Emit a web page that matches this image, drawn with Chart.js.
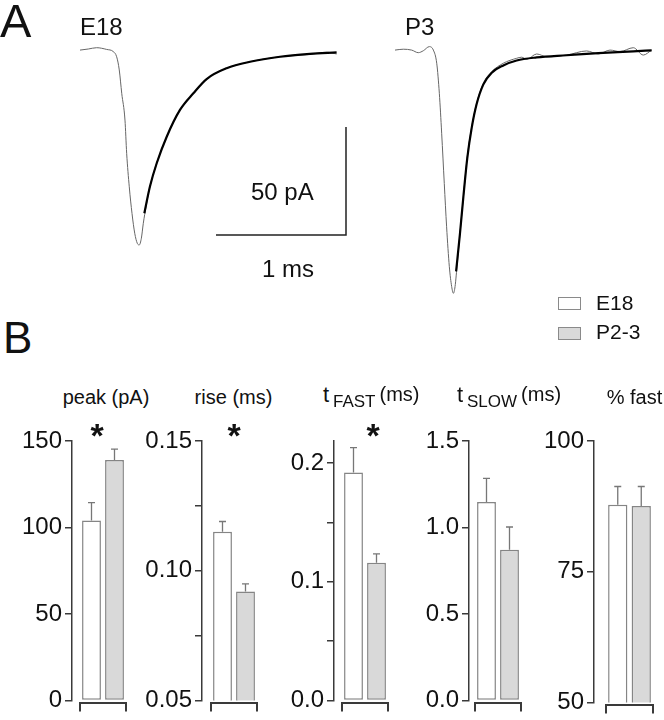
<!DOCTYPE html>
<html>
<head>
<meta charset="utf-8">
<script src="https://cdn.jsdelivr.net/npm/chart.js@4/dist/chart.umd.min.js"></script>
<style>
  body { margin: 0; background: #fff; }
  #fig { position: relative; width: 664px; height: 720px; overflow: hidden;
         font-family: "Liberation Sans", Arial, sans-serif; color: #111; }
  #fig canvas { position: absolute; }
  .t { position: absolute; line-height: 1; white-space: nowrap; }
  .box { position: absolute; box-sizing: border-box; width: 23px; height: 13px; border: 1px solid #8a8a8a; }
</style>
</head>
<body>
<div id="fig"></div>
<script>
// ---- panel A: averaged currents (time in ms from trace start, current in pA) ----
const e18Time    = [0, .064, .128, .205, .256, .282, .302, .321, .346, .359, .379, .4, .421, .441, .456, .472, .487, .508, .538, .59, .667, .769, .872, .974, 1.128, 1.308, 1.538, 1.769, 1.897, 1.974];
const e18Current = [-0.5, 0, 0.6, -0.2, -1.2, -3.6, -9.7, -20.5, -32.9, -48.3, -63.8, -76.1, -85.3, -90, -90.7, -87.6, -80.7, -73, -63.7, -52.9, -40.6, -28.2, -20.5, -13.9, -8.9, -5.9, -3.6, -2.5, -1.5, -2.3];
const e18FitTime    = [.495, .538, .59, .667, .769, .872, .974, 1.128, 1.308, 1.538, 1.769, 1.974];
const e18FitCurrent = [-76, -63.7, -52.9, -40.6, -28.2, -20.5, -13.9, -8.9, -5.9, -3.6, -2.3, -1.6];

const p3Time    = [0, .064, .128, .179, .218, .264, .295, .321, .341, .359, .379, .397, .418, .436, .449, .462, .479, .5, .526, .556, .59, .628, .679, .744, .833, .936, .974, 1.013, 1.09, 1.167, 1.321, 1.474, 1.564, 1.654, 1.731, 1.833, 1.91, 1.974];
const p3Current = [-0.5, -0.1, -0.5, -1.7, -0.8, 1.1, -0.5, -6.6, -20.5, -39, -62.2, -82.3, -100.8, -110, -113.1, -110, -99.2, -85.3, -68.4, -49.9, -36, -25.1, -15.9, -10.5, -6.6, -4.3, -3.8, -4.8, -2.3, -3.6, -2.8, -0.9, -2.3, -0.5, -1.2, 0.6, -2.8, -0.5];
const p3FitTime    = [.47, .5, .526, .556, .59, .628, .679, .744, .833, .936, 1.09, 1.321, 1.564, 1.833, 1.974];
const p3FitCurrent = [-103, -85.3, -68.4, -50.5, -36.5, -25.5, -16.5, -11, -7.6, -5.3, -3.9, -2.9, -1.9, -1.1, -0.6];

const scaleBarTime = 1;     // ms
const scaleBarCurrent = 50; // pA

// ---- panel B: kinetics summary ----
const groups   = ['E18', 'P2-3'];
const measures = ['peak (pA)', 'rise (ms)', 't FAST (ms)', 't SLOW (ms)', '% fast'];
const e18Mean  = [104, 0.115, 0.192, 1.147, 87.8];
const e18Sem   = [10.4, 0.004, 0.021, 0.137, 3.5];
const p23Mean  = [139, 0.092, 0.116, 0.872, 87.6];
const p23Sem   = [6.3, 0.003, 0.0075, 0.131, 3.7];
const significant = [true, true, true, false, false];
const yMin  = [0, 0.05, 0, 0, 50];
const yMax  = [150, 0.15, 0.2185, 1.5, 100];
const yStep = [50, 0.025, 0.05, 0.5, 25];
const tickLabels = [
  ['0', '50', '100', '150'],
  ['0.05', '0.10', '0.15'],
  ['0.0', '0.1', '0.2'],
  ['0.0', '0.5', '1.0', '1.5'],
  ['50', '75', '100']
];

// ---- layout ----
const FONT = '"Liberation Sans", Arial, sans-serif';
const AXIS_COLOR = '#3a3a3a';
const E18_FILL = '#ffffff', P23_FILL = '#d9d9d9', BAR_EDGE = '#858585';
const PX_PER_MS = 130, PX_PER_PA = 108 / 50;
const A_W = 664, A_H = 300, A_BASE_Y = 49;
const e18Offset = 80 / PX_PER_MS, p3Offset = 395 / PX_PER_MS;
const barCorner = { t: 346 / PX_PER_MS, i: -(235 - A_BASE_Y) / PX_PER_PA };

const AXIS_X = [72, 202, 334, 469, 594];
const GAP = [8, 9, 8, 6, 12];
const AREA_W = [46, 46, 46, 46, 47];
const AREA_TOP = 441;
const AREA_BOTTOM = [702, 702, 702, 702, 704];
const YAXIS_W = 70, XAXIS_H = 14, XGAP_H = 2, PAD_TOP = 21, PAD_RIGHT = 3;

Chart.defaults.font.family = FONT;
Chart.defaults.color = '#111';

const fig = document.getElementById('fig');

function text(str, left, base, size, opt) {
  opt = opt || {};
  const d = document.createElement('div');
  d.className = 't';
  d.textContent = str;
  d.style.fontSize = size + 'px';
  d.style.top = (base - 0.8465 * size) + 'px';
  d.style.left = left + 'px';
  if (opt.center) d.style.transform = 'translateX(-50%)';
  if (opt.bold) d.style.fontWeight = 'bold';
  fig.appendChild(d);
  return d;
}

function pts(ts, vs, off) {
  return ts.map((t, k) => ({ x: t + off, y: vs[k] }));
}

// ---------- panel A ----------
const canvasA = document.createElement('canvas');
canvasA.width = A_W; canvasA.height = A_H;
canvasA.style.left = '0px'; canvasA.style.top = '0px';
fig.appendChild(canvasA);

new Chart(canvasA, {
  type: 'line',
  data: {
    datasets: [
      { data: pts(e18Time, e18Current, e18Offset), borderColor: '#666', borderWidth: 1, order: 2 },
      { data: pts(e18FitTime, e18FitCurrent, e18Offset), borderColor: '#000', borderWidth: 2.2, order: 1 },
      { data: pts(p3Time, p3Current, p3Offset), borderColor: '#666', borderWidth: 1, order: 2 },
      { data: pts(p3FitTime, p3FitCurrent, p3Offset), borderColor: '#000', borderWidth: 2.2, order: 1 },
      {
        data: [
          { x: barCorner.t - scaleBarTime, y: barCorner.i },
          { x: barCorner.t, y: barCorner.i },
          { x: barCorner.t, y: barCorner.i + scaleBarCurrent }
        ],
        borderColor: '#222', borderWidth: 1.5, tension: 0, cubicInterpolationMode: 'default', order: 0
      }
    ]
  },
  options: {
    responsive: false,
    animation: false,
    devicePixelRatio: 1,
    layout: { padding: 0 },
    elements: { point: { radius: 0 }, line: { cubicInterpolationMode: 'monotone' } },
    plugins: { legend: { display: false }, tooltip: { enabled: false } },
    scales: {
      x: { type: 'linear', display: false, min: 0, max: A_W / PX_PER_MS },
      y: { type: 'linear', display: false, min: -(A_H - A_BASE_Y) / PX_PER_PA, max: A_BASE_Y / PX_PER_PA }
    }
  }
});

text('A', 0, 37, 47);
text('E18', 80, 35, 24);
text('P3', 405, 35, 24);
text('50 pA', 251, 200, 24);
text('1 ms', 262, 277, 24);

// ---------- panel B ----------
text('B', 3, 353, 44);

// legend
[[E18_FILL, 297, groups[0], 310], [P23_FILL, 327, groups[1], 339]].forEach(([fill, top, name, base]) => {
  const b = document.createElement('div');
  b.className = 'box';
  b.style.left = '558px'; b.style.top = top + 'px'; b.style.background = fill;
  fig.appendChild(b);
  text(name, 596, base, 21);
});

const errorBars = {
  id: 'errorBars',
  afterDatasetsDraw(chart) {
    const ds = chart.data.datasets[0];
    const meta = chart.getDatasetMeta(0);
    const ys = chart.scales.y;
    const ctx = chart.ctx;
    ctx.save();
    ctx.strokeStyle = '#777';
    ctx.lineWidth = 1.3;
    meta.data.forEach((bar, j) => {
      const top = ys.getPixelForValue(ds.data[j] + ds.sem[j]);
      ctx.beginPath();
      ctx.moveTo(bar.x, bar.y);
      ctx.lineTo(bar.x, top);
      ctx.moveTo(bar.x - 3.5, top);
      ctx.lineTo(bar.x + 3.5, top);
      ctx.stroke();
    });
    ctx.restore();
  }
};

measures.forEach((m, i) => {
  const c = document.createElement('canvas');
  c.width = YAXIS_W + GAP[i] + AREA_W[i] + PAD_RIGHT;
  c.height = PAD_TOP + (AREA_BOTTOM[i] - AREA_TOP) + XGAP_H + XAXIS_H;
  c.style.left = (AXIS_X[i] - YAXIS_W) + 'px';
  c.style.top = (AREA_TOP - PAD_TOP) + 'px';
  fig.appendChild(c);

  const labels = tickLabels[i];
  new Chart(c, {
    type: 'bar',
    data: {
      labels: groups,
      datasets: [{
        data: [e18Mean[i], p23Mean[i]],
        sem: [e18Sem[i], p23Sem[i]],
        backgroundColor: [E18_FILL, P23_FILL],
        borderColor: BAR_EDGE,
        borderWidth: 1.5,
        borderSkipped: false,
        barPercentage: 0.82,
        categoryPercentage: 1,
        xAxisID: 'x',
        yAxisID: 'y'
      }]
    },
    options: {
      responsive: false,
      animation: false,
      devicePixelRatio: 1,
      layout: { padding: { top: PAD_TOP, right: PAD_RIGHT, left: 0, bottom: 0 } },
      plugins: { legend: { display: false }, tooltip: { enabled: false } },
      scales: {
        x: {
          type: 'category',
          position: 'bottom',
          weight: 2,
          offset: true,
          afterFit: s => { s.height = XAXIS_H; },
          ticks: { display: false },
          grid: {
            offset: true, drawOnChartArea: false, tickLength: 9, lineWidth: 2,
            color: ctx => ctx.index === 1 ? 'rgba(0,0,0,0)' : AXIS_COLOR
          },
          border: { color: AXIS_COLOR, width: 2 }
        },
        xgap: {
          type: 'category',
          axis: 'x',
          position: 'bottom',
          weight: 0,
          afterFit: s => { s.height = XGAP_H; },
          ticks: { display: false },
          grid: { display: false },
          border: { display: false }
        },
        y: {
          type: 'linear',
          position: 'left',
          weight: 2,
          min: yMin[i],
          max: yMax[i],
          afterFit: s => { s.width = YAXIS_W; },
          ticks: {
            stepSize: yStep[i],
            includeBounds: false,
            padding: 3,
            color: '#111',
            font: { size: 24, family: FONT },
            callback: v => {
              const hit = labels.find(l => Math.abs(parseFloat(l) - v) < 1e-6);
              return hit === undefined ? '' : hit;
            }
          },
          grid: { drawOnChartArea: false, tickLength: 7, lineWidth: 1.5, color: AXIS_COLOR },
          border: { color: AXIS_COLOR, width: 1.5 }
        },
        gap: {
          type: 'linear',
          axis: 'y',
          position: 'left',
          weight: 0,
          afterFit: s => { s.width = GAP[i]; },
          ticks: { display: false },
          grid: { display: false },
          border: { display: false }
        }
      }
    },
    plugins: [errorBars]
  });
});

// titles
text(measures[0], 106, 404, 20, { center: true });
text(measures[1], 233.5, 404, 20, { center: true });
text(measures[4], 634.5, 404, 20, { center: true });
// t FAST (ms) and t SLOW (ms): subscript words and raised unit
[[measures[2], 323], [measures[3], 457]].forEach(([m, x0]) => {
  const parts = m.split(' ');
  text(parts[0], x0, 403, 22);
  const sub = text(parts[1], x0 + 10, 407, 17);
  const unit = text(parts[2], 0, 401, 20);
  unit.style.left = (x0 + 10 + sub.getBoundingClientRect().width + 4) + 'px';
});

// significance stars
const STAR_X = [97, 234, 373, 0, 0];
significant.forEach((s, i) => {
  if (s) text('*', STAR_X[i], 447, 34, { center: true, bold: true });
});
</script>
</body>
</html>
